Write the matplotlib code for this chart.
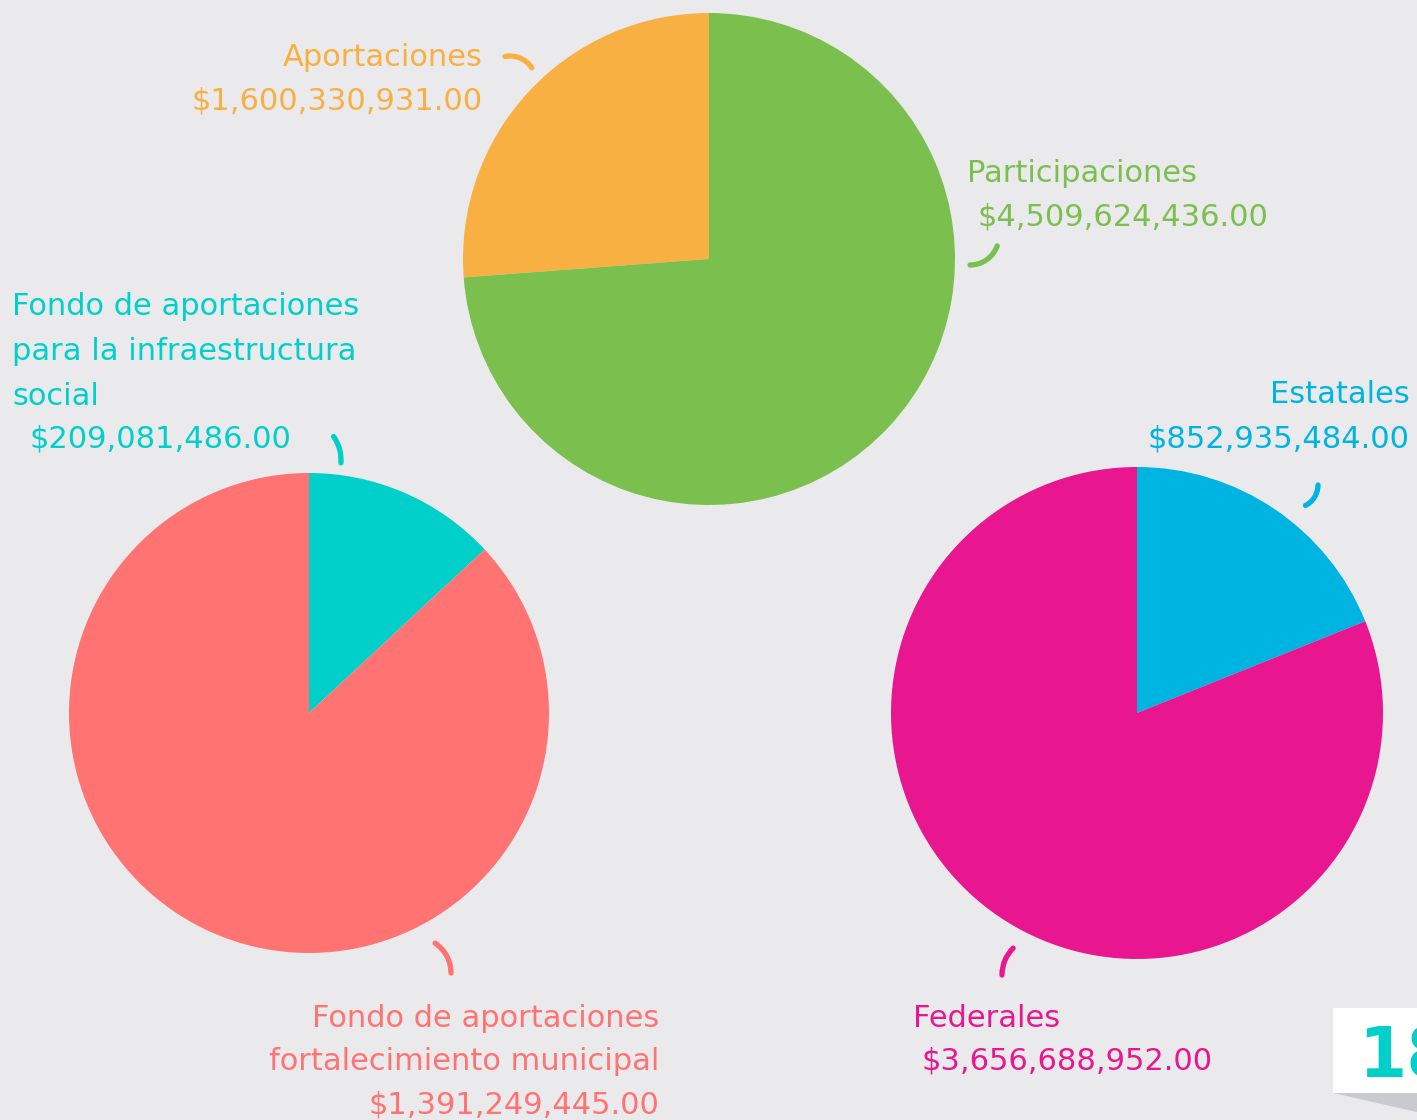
import matplotlib.pyplot as plt
from matplotlib.patches import Arc, Rectangle, Polygon

W, H = 1417, 1120

# data
top_labels = ["Aportaciones", "Participaciones"]
top_values = [1600330931.00, 4509624436.00]
left_labels = ["Fondo de aportaciones\npara la infraestructura\nsocial",
               "Fondo de aportaciones\nfortalecimiento municipal"]
left_values = [209081486.00, 1391249445.00]
right_labels = ["Estatales", "Federales"]
right_values = [852935484.00, 3656688952.00]

bg = "#EAEAEC"
orange, green = "#F9B043", "#7BBF4F"
teal, coral = "#00D0C9", "#FF7373"
blue, magenta = "#00B4E1", "#E8168F"


def money(v):
    return "${:,.2f}".format(v)


def fy(y):
    # pixel row (from top) -> data y (from bottom)
    return H - y


fig = plt.figure(figsize=(W / 100, H / 100), dpi=100)
fig.patch.set_facecolor(bg)
ax = fig.add_axes([0, 0, 1, 1])
ax.set_facecolor(bg)

ax.pie(top_values, colors=[orange, green], center=(709, fy(259)), radius=246,
       startangle=90, counterclock=True, frame=True,
       wedgeprops=dict(linewidth=0))
ax.pie(left_values, colors=[teal, coral], center=(309, fy(713)), radius=240,
       startangle=90, counterclock=False, frame=True,
       wedgeprops=dict(linewidth=0))
ax.pie(right_values, colors=[blue, magenta], center=(1137, fy(713)), radius=246,
       startangle=90, counterclock=False, frame=True,
       wedgeprops=dict(linewidth=0))

ax.set_xlim(0, W)
ax.set_ylim(0, H)
ax.set_aspect("equal")
ax.axis("off")

fs = 22
font = "DejaVu Sans"


def label(x, y, s, color, ha="left"):
    ax.text(x, fy(y), s, color=color, fontsize=fs, family=font,
            ha=ha, va="baseline", linespacing=1.45)


# labels
label(483, 66, top_labels[0], orange, "right")
label(483, 110, money(top_values[0]), orange, "right")
label(967, 182, top_labels[1], green)
label(977, 225, money(top_values[1]), green)

for i, line in enumerate(left_labels[0].split("\n")):
    label(12, 315 + 45 * i, line, teal)
label(30, 448, money(left_values[0]), teal)
for i, line in enumerate(left_labels[1].split("\n")):
    label(659, 1027 + 43 * i, line, coral, "right")
label(659, 1114, money(left_values[1]), coral, "right")

label(1410, 403, right_labels[0], blue, "right")
label(1410, 448, money(right_values[0]), blue, "right")
label(913, 1027, right_labels[1], magenta)
label(921, 1069, money(right_values[1]), magenta)

# small curved connectors
arcs = [
    ((510, 82), 26, 33, 101, orange),
    ((970, 236), 29, -90, -20, green),
    ((300, 460), 41, -4, 35, teal),
    ((1295, 485), 23, -63, 0, blue),
    ((415, 973), 36, 0, 56, coral),
    ((1040, 975), 38, 135, 180, magenta),
]
for (cx, cy), r, t1, t2, c in arcs:
    a = Arc((cx, fy(cy)), 2 * r, 2 * r, theta1=t1, theta2=t2,
            color=c, lw=3.8)
    a.set_capstyle("round")
    ax.add_patch(a)

# page number tab
ax.add_patch(Polygon([(1333, fy(1093)), (W, fy(1093)), (W, fy(1112))],
                     closed=True, facecolor="#C8CACF", edgecolor="none"))
ax.add_patch(Rectangle((1333, fy(1093)), W - 1333, 85,
                       facecolor="white", edgecolor="none"))
ax.text(1358, fy(1077), "18", color=teal, fontsize=50, fontweight="bold",
        family=font, ha="left", va="baseline", clip_on=True)

fig.savefig("out.png", dpi=100, facecolor=bg)
